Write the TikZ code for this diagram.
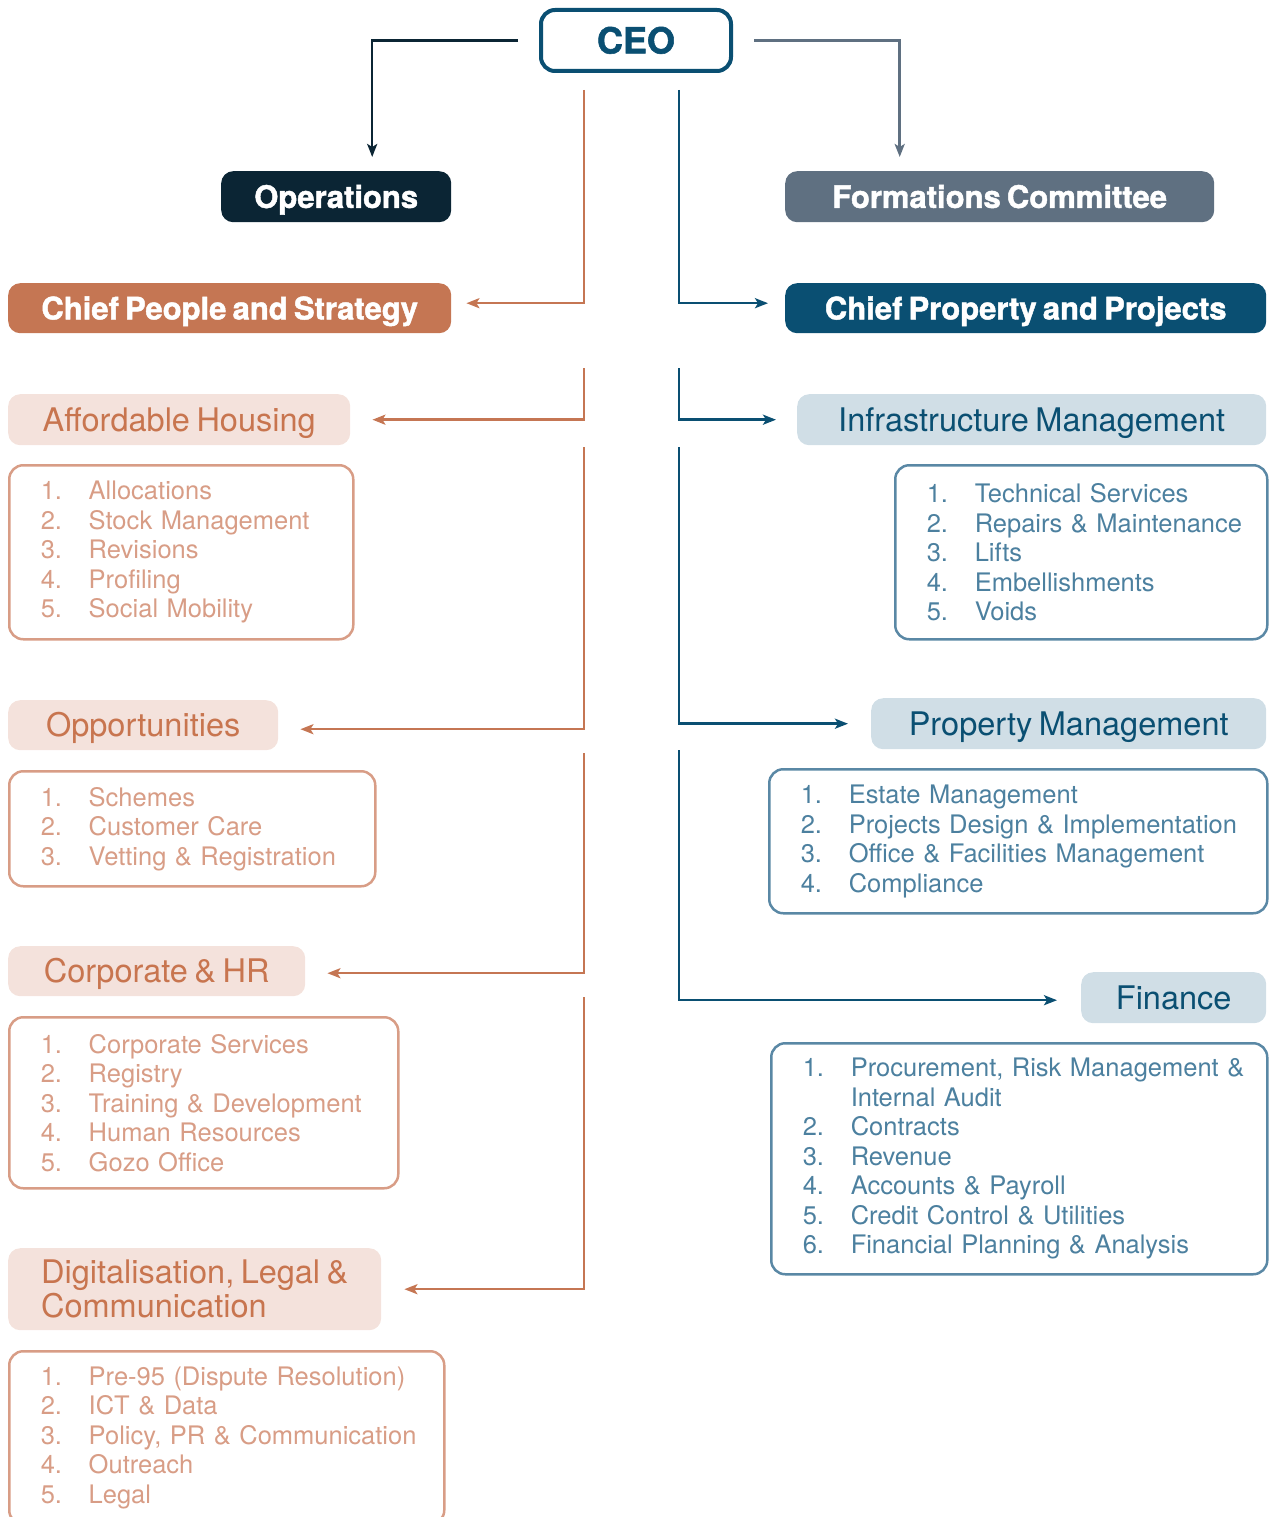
\documentclass[tikz,border=0pt]{standalone}
\usepackage{fontspec}
\setmainfont[BoldFeatures={FakeBold=1.5}]{TeX Gyre Heros}
\usepackage{xcolor}
\usepackage{tikz}
\usetikzlibrary{arrows.meta}
\definecolor{ceoblue}{HTML}{0A4F72}
\definecolor{opsnavy}{HTML}{0B2534}
\definecolor{frmgrey}{HTML}{5F7081}
\definecolor{terra}{HTML}{C57653}
\definecolor{peach}{HTML}{F4E2DC}
\definecolor{peachtext}{HTML}{C8754F}
\definecolor{peachline}{HTML}{D89D86}
\definecolor{pale}{HTML}{D0DEE6}
\definecolor{blueline}{HTML}{5A88A5}
\definecolor{bluetext}{HTML}{4C809F}
\newcommand\tight{\fontdimen2\font=0.2em}
\newcommand\ceofont{\fontsize{36pt}{36pt}\selectfont\bfseries}
\newcommand\chieffont{\fontsize{31pt}{31pt}\selectfont\bfseries\tight}
\newcommand\deptfont{\fontsize{32.5pt}{34pt}\selectfont\tight}
\newcommand\listfont{\fontsize{25.5pt}{29.5pt}\selectfont\tight}
\newcommand\li[2]{\makebox[48pt][l]{#1.}\mbox{#2}}
\newcommand\lii[1]{\hspace*{48pt}\mbox{#1}}
\tikzstyle{conn}=[line width=2.5pt,>={Stealth[length=13pt,width=10pt,inset=3pt]},->]
\tikzstyle{boss}=[draw=ceoblue,text=ceoblue,line width=4pt,rounded corners=14pt,font=\ceofont,inner sep=0pt,text height=33.5pt,text depth=7.6pt]
\tikzstyle{chief}=[rounded corners=12pt,text=white,font=\chieffont,inner sep=0pt,anchor=north west,text height=28.9pt,text depth=6.5pt]
\tikzstyle{dept}=[rounded corners=12pt,font=\deptfont,inner sep=0pt,anchor=north west]
\tikzstyle{oneline}=[text height=30.2pt,text depth=6.8pt]
\tikzstyle{ldept}=[dept,fill=peach,text=peachtext,align=left]
\tikzstyle{rdept}=[dept,fill=pale,text=ceoblue,oneline]
\tikzstyle{lst}=[draw,line width=2.5pt,rounded corners=14pt,anchor=north west,inner xsep=31.5pt,inner ysep=0pt,align=left,font=\listfont]
\tikzstyle{llst}=[lst,draw=peachline,text=peachline]
\tikzstyle{rlst}=[lst,draw=blueline,text=bluetext]
\begin{document}
\begin{tikzpicture}[x=1pt,y=-1pt]
	\useasboundingbox (0,0) rectangle (1271,1517);
	\node[boss,minimum width=190pt,minimum height=61pt] (ceo) at (636,40.5) {CEO};
	\node[chief,fill=opsnavy,minimum width=230pt,minimum height=51pt] (ops) at (221,171) {Operations};
	\node[chief,fill=frmgrey,minimum width=429pt,minimum height=51pt] (frm) at (785,171) {Formations Committee};
	\node[chief,fill=terra,minimum width=443pt,minimum height=50pt] (cps) at (8,283) {Chief People and Strategy};
	\node[chief,fill=ceoblue,minimum width=481pt,minimum height=50pt] (cpp) at (785,283) {Chief Property and Projects};

	\node[ldept,oneline,minimum width=342pt,minimum height=51pt] (ah) at (8,394) {Affordable Housing};
	\node[llst,text width=281pt,minimum height=174pt] (ahl) at (8,464) {\li{1}{Allocations}\\ \li{2}{Stock Management}\\ \li{3}{Revisions}\\ \li{4}{Profiling}\\ \li{5}{Social Mobility}};
	\node[ldept,oneline,minimum width=270pt,minimum height=50pt] (op) at (8,700) {Opportunities};
	\node[llst,text width=303pt,minimum height=115pt] (opl) at (8,770) {\li{1}{Schemes}\\ \li{2}{Customer Care}\\ \li{3}{Vetting \& Registration}};
	\node[ldept,oneline,minimum width=297pt,minimum height=50pt] (co) at (8,946) {Corporate \& HR};
	\node[llst,text width=326pt,minimum height=171pt] (col) at (8,1016) {\li{1}{Corporate Services}\\ \li{2}{Registry}\\ \li{3}{Training \& Development}\\ \li{4}{Human Resources}\\ \li{5}{Gozo Office}};
	\node[ldept,minimum width=373pt,minimum height=82pt] (dg) at (8,1248) {Digitalisation, Legal \&\\ Communication};
	\node[llst,text width=372pt,minimum height=173pt] (dgl) at (8,1350) {\li{1}{Pre-95 (Dispute Resolution)}\\ \li{2}{ICT \& Data}\\ \li{3}{Policy, PR \& Communication}\\ \li{4}{Outreach}\\ \li{5}{Legal}};

	\node[rdept,minimum width=469pt,minimum height=51pt] (im) at (797,394) {Infrastructure Management};
	\node[rlst,text width=309pt,minimum height=174pt] (iml) at (894,464) {\li{1}{Technical Services}\\ \li{2}{Repairs \& Maintenance}\\ \li{3}{Lifts}\\ \li{4}{Embellishments}\\ \li{5}{Voids}};
	\node[rdept,minimum width=395pt,minimum height=51pt] (pm) at (871,698) {Property Management};
	\node[rlst,text width=435pt,minimum height=144pt] (pml) at (768,768) {\li{1}{Estate Management}\\ \li{2}{Projects Design \& Implementation}\\ \li{3}{Office \& Facilities Management}\\ \li{4}{Compliance}};
	\node[rdept,minimum width=185pt,minimum height=51pt] (fin) at (1081,972) {Finance};
	\node[rlst,text width=433pt,minimum height=231pt] (finl) at (770,1042) {\li{1}{Procurement, Risk Management \&}\\ \lii{Internal Audit}\\ \li{2}{Contracts}\\ \li{3}{Revenue}\\ \li{4}{Accounts \& Payroll}\\ \li{5}{Credit Control \& Utilities}\\ \li{6}{Financial Planning \& Analysis}};

	\coordinate (o0) at (584,90);
	\coordinate (o1) at (584,368);
	\coordinate (o2) at (584,447);
	\coordinate (o3) at (584,753);
	\coordinate (o4) at (584,997);
	\coordinate (b0) at (679,90);
	\coordinate (b1) at (679,368);
	\coordinate (b2) at (679,447);
	\coordinate (b3) at (679,750);

	\draw[conn,opsnavy,shorten <=21pt,shorten >=14pt] (ceo.west) -| ([xshift=36pt]ops.north);
	\draw[conn,frmgrey,shorten <=21pt,shorten >=14pt] (ceo.east) -| ([xshift=-100pt]frm.north);
	\draw[conn,terra,shorten >=15pt] (o0) |- ([yshift=5pt]cps.east);
	\draw[conn,terra,shorten >=22pt] (o1) |- (ah.east);
	\draw[conn,terra,shorten >=22pt] (o2) |- ([yshift=-4pt]op.east);
	\draw[conn,terra,shorten >=22pt] (o3) |- ([yshift=-2pt]co.east);
	\draw[conn,terra,shorten >=23pt] (o4) |- (dg.east);
	\draw[conn,ceoblue,shorten >=17pt] (b0) |- ([yshift=5pt]cpp.west);
	\draw[conn,ceoblue,shorten >=21pt] (b1) |- (im.west);
	\draw[conn,ceoblue,shorten >=23pt] (b2) |- (pm.west);
	\draw[conn,ceoblue,shorten >=24pt] (b3) |- ([yshift=-2.5pt]fin.west);
\end{tikzpicture}
\end{document}
